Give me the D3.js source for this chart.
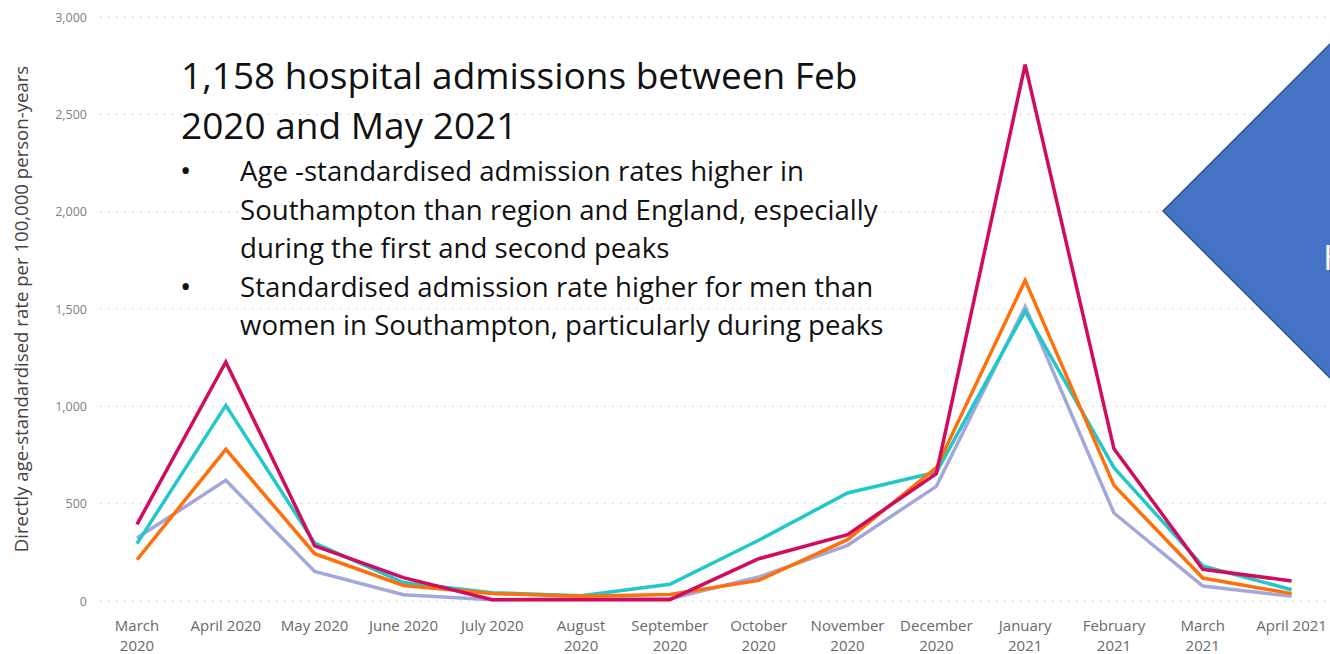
<!DOCTYPE html>
<html>
<head>
<meta charset="utf-8">
<script src="https://cdn.jsdelivr.net/npm/d3@7"></script>
<style>
  html, body { margin: 0; padding: 0; background: #ffffff; overflow: hidden; }
  svg { display: block; }
</style>
</head>
<body>
<svg id="chart" width="1330" height="654"></svg>
<script>
// Months on the x axis, with the wrapped label lines
const months = ["Mar 2020","Apr 2020","May 2020","Jun 2020","Jul 2020","Aug 2020","Sep 2020",
                "Oct 2020","Nov 2020","Dec 2020","Jan 2021","Feb 2021","Mar 2021","Apr 2021"];
const monthLabels = [["March","2020"],["April 2020"],["May 2020"],["June 2020"],["July 2020"],
                     ["August","2020"],["September","2020"],["October","2020"],["November","2020"],
                     ["December","2020"],["January","2021"],["February","2021"],["March","2021"],["April 2021"]];

// Directly age-standardised admission rates per 100,000 person-years
const magentaRates  = [394, 1228, 283, 120, 7, 7, 7, 217, 341, 654, 2755, 782, 163, 103];
const cyanRates     = [295, 1005, 298, 95, 43, 27, 86, 312, 555, 662, 1488, 685, 180, 58];
const orangeRates   = [212, 779, 243, 80, 38, 24, 33, 106, 315, 685, 1647, 594, 118, 38];
const lavenderRates = [324, 620, 152, 32, 7, 12, 12, 123, 286, 589, 1512, 452, 77, 24];

const yTicks = [0, 500, 1000, 1500, 2000, 2500, 3000];

const titleLines = ["1,158 hospital admissions between Feb", "2020 and May 2021"];
const bulletItems = [
  ["Age -standardised admission rates higher in",
   "Southampton than region and England, especially",
   "during the first and second peaks"],
  ["Standardised admission rate higher for men than",
   "women in Southampton, particularly during peaks"]
];

const svg = d3.select("#chart");

const x = d3.scaleBand().domain(months).range([92.6, 1336]).padding(0);
const y = d3.scaleLinear().domain([0, 3000]).range([601, 17]);
const cx = m => x(m) + x.bandwidth() / 2;

const axisFont = "'Open Sans', sans-serif";
const textFont = "'Open Sans', 'Noto Sans', sans-serif";

// Dotted horizontal gridlines
svg.append("g").selectAll("line").data(yTicks).join("line")
  .attr("x1", 100).attr("x2", 1330)
  .attr("y1", d => y(d)).attr("y2", d => y(d))
  .attr("stroke", "#c8c8c8").attr("stroke-width", 1)
  .attr("stroke-dasharray", "1.5,6.5");

// Y axis tick labels
const yAxis = svg.append("g").attr("transform", "translate(87,0)")
  .call(d3.axisLeft(y).tickValues(yTicks).tickFormat(d3.format(",")).tickSize(0).tickPadding(0));
yAxis.select(".domain").remove();
yAxis.selectAll("text")
  .attr("fill", "#7f7f7f").style("font-family", axisFont).style("font-size", "12.5px");

// Y axis title
svg.append("text")
  .attr("transform", "translate(28,309) rotate(-90)")
  .attr("text-anchor", "middle")
  .attr("fill", "#444444")
  .style("font-family", axisFont).style("font-size", "18.6px")
  .text("Directly age-standardised rate per 100,000 person-years");

// X axis labels (wrapped)
const xAxis = svg.append("g").attr("transform", "translate(0,612)")
  .call(d3.axisBottom(x).tickSize(0).tickFormat(() => ""));
xAxis.select(".domain").remove();
xAxis.selectAll(".tick text").remove();
xAxis.selectAll(".tick").each(function(d, i) {
  const t = d3.select(this).append("text")
    .attr("text-anchor", "middle").attr("fill", "#6a6a6a")
    .style("font-family", axisFont).style("font-size", "15px");
  monthLabels[i].forEach((line, j) => {
    t.append("tspan").attr("x", 0).attr("y", 19 + j * 20).text(line);
  });
});

// Series lines
const line = d3.line().x((d, i) => cx(months[i])).y(d => y(d));
const series = [
  { values: lavenderRates, color: "#a3a8db" },
  { values: cyanRates,     color: "#22c7cb" },
  { values: orangeRates,   color: "#ff6f0a" },
  { values: magentaRates,  color: "#d20b5e" }
];
svg.append("g").selectAll("path").data(series).join("path")
  .attr("d", d => line(d.values))
  .attr("fill", "none")
  .attr("stroke", d => d.color)
  .attr("stroke-width", 3.5)
  .attr("stroke-linejoin", "miter")
  .attr("stroke-linecap", "butt");

// Slide text overlay
const title = svg.append("text")
  .attr("fill", "#111").style("font-family", textFont).style("font-size", "37px");
titleLines.forEach((l, i) => {
  title.append("tspan").attr("x", 181).attr("y", 89 + i * 50).text(l);
});

let row = 0;
bulletItems.forEach(item => {
  svg.append("text").attr("x", 180).attr("y", 181 + row * 38.5)
    .attr("fill", "#111").style("font-family", textFont).style("font-size", "30px").text("•");
  item.forEach(l => {
    svg.append("text").attr("x", 240).attr("y", 181 + row * 38.5)
      .attr("fill", "#111").style("font-family", textFont).style("font-size", "27.6px").text(l);
    row++;
  });
});

// Blue diamond callout at the right edge
const dc = { x: 1163 + 210, y: 211, r: 210 };
svg.append("polygon")
  .attr("points", [[dc.x - dc.r, dc.y], [dc.x, dc.y - dc.r], [dc.x + dc.r, dc.y], [dc.x, dc.y + dc.r]]
    .map(p => p.join(",")).join(" "))
  .attr("fill", "#4472c4").attr("stroke", "#2f528f").attr("stroke-width", 1.5);
svg.append("text").attr("x", 1323).attr("y", 270)
  .attr("fill", "#ffffff").style("font-family", textFont).style("font-size", "35px").text("H");
</script>
</body>
</html>
